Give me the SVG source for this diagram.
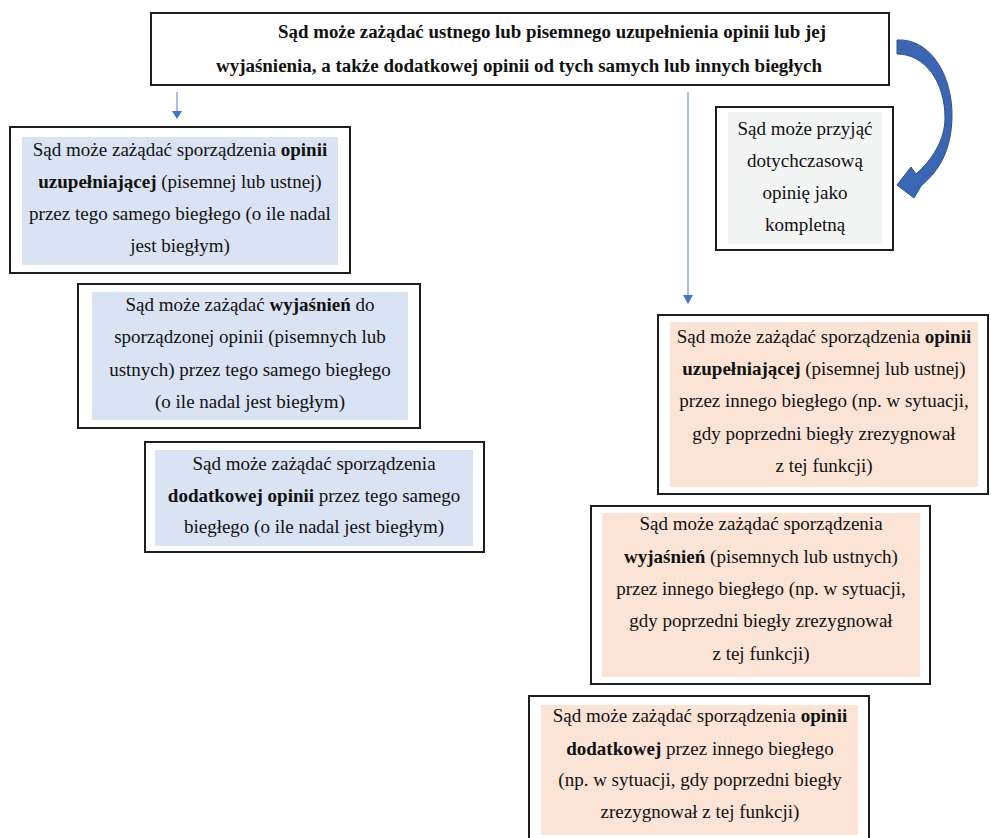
<svg xmlns="http://www.w3.org/2000/svg" width="991" height="838" viewBox="0 0 991 838">
<defs>
<style>
.box{fill:#ffffff;stroke:#1e1e1e;stroke-width:2}
.blue{fill:#dae3f3}
.peach{fill:#fbe4d6}
.gray{fill:#f3f4f4}
.b{font-weight:bold}
.conn{stroke:#8eaadb;stroke-width:1.5;fill:none}
.head{fill:#4472c4}
</style>
</defs>
<rect width="991" height="838" fill="#ffffff"/>

<g id="connectors">
<line class="conn" x1="177" y1="92" x2="177" y2="112"/>
<polygon class="head" points="172,111 182,111 177,119"/>
<line class="conn" x1="688" y1="92" x2="688" y2="296"/>
<polygon class="head" points="683,295 693,295 688,304"/>
<path d="M 897 40 C 930 38, 953 75, 952 118 C 951 150, 940 170, 921 186 L 914 198 L 897 185 L 911 167 L 916 174 C 932 160, 945 140, 945 118 C 945 82, 925 54, 897 54 Z" fill="#3b66b3" stroke="#2f528f" stroke-width="1"/>
</g>

<g id="top">
<rect class="box" x="151" y="13" width="738" height="72"/>
<text font-family="Liberation Serif" font-size="18" font-weight="bold" fill="#111" x="278" y="38" textLength="548" lengthAdjust="spacingAndGlyphs">Sąd może zażądać ustnego lub pisemnego uzupełnienia opinii lub jej</text>
<text font-family="Liberation Serif" font-size="18" font-weight="bold" fill="#111" x="216" y="72" textLength="606" lengthAdjust="spacingAndGlyphs">wyjaśnienia, a także dodatkowej opinii od tych samych lub innych biegłych</text>
</g>

<g id="left1">
<rect class="box" x="10" y="127" width="340" height="146"/>
<rect class="blue" x="22" y="137" width="316" height="128"/>
<text font-family="Liberation Serif" font-size="19" fill="#111" text-anchor="middle" x="180" y="156">Sąd może zażądać sporządzenia <tspan class="b">opinii</tspan></text>
<text font-family="Liberation Serif" font-size="19" fill="#111" text-anchor="middle" x="180" y="188"><tspan class="b">uzupełniającej</tspan> (pisemnej lub ustnej)</text>
<text font-family="Liberation Serif" font-size="19" fill="#111" text-anchor="middle" x="180" y="220">przez tego samego biegłego (o ile nadal</text>
<text font-family="Liberation Serif" font-size="19" fill="#111" text-anchor="middle" x="180" y="252">jest biegłym)</text>
</g>

<g id="left2">
<rect class="box" x="78" y="284" width="342" height="144"/>
<rect class="blue" x="92" y="292" width="316" height="128"/>
<text font-family="Liberation Serif" font-size="19" fill="#111" text-anchor="middle" x="250" y="311">Sąd może zażądać <tspan class="b">wyjaśnień</tspan> do</text>
<text font-family="Liberation Serif" font-size="19" fill="#111" text-anchor="middle" x="250" y="343">sporządzonej opinii (pisemnych lub</text>
<text font-family="Liberation Serif" font-size="19" fill="#111" text-anchor="middle" x="250" y="376">ustnych) przez tego samego biegłego</text>
<text font-family="Liberation Serif" font-size="19" fill="#111" text-anchor="middle" x="250" y="408">(o ile nadal jest biegłym)</text>
</g>

<g id="left3">
<rect class="box" x="145" y="442" width="339" height="110"/>
<rect class="blue" x="155" y="450" width="318" height="96"/>
<text font-family="Liberation Serif" font-size="19" fill="#111" text-anchor="middle" x="314" y="470">Sąd może zażądać sporządzenia</text>
<text font-family="Liberation Serif" font-size="19" fill="#111" text-anchor="middle" x="314" y="502"><tspan class="b">dodatkowej opinii</tspan> przez tego samego</text>
<text font-family="Liberation Serif" font-size="19" fill="#111" text-anchor="middle" x="314" y="533">biegłego (o ile nadal jest biegłym)</text>
</g>

<g id="accept">
<rect class="box" x="716" y="107" width="177" height="143"/>
<rect class="gray" x="728" y="112" width="154" height="132"/>
<text font-family="Liberation Serif" font-size="19" fill="#111" text-anchor="middle" x="805" y="135">Sąd może przyjąć</text>
<text font-family="Liberation Serif" font-size="19" fill="#111" text-anchor="middle" x="805" y="167">dotychczasową</text>
<text font-family="Liberation Serif" font-size="19" fill="#111" text-anchor="middle" x="805" y="199">opinię jako</text>
<text font-family="Liberation Serif" font-size="19" fill="#111" text-anchor="middle" x="805" y="231">kompletną</text>
</g>

<g id="right1">
<rect class="box" x="658" y="315" width="330" height="179"/>
<rect class="peach" x="670" y="322" width="308" height="165"/>
<text font-family="Liberation Serif" font-size="19" fill="#111" text-anchor="middle" x="824" y="343">Sąd może zażądać sporządzenia <tspan class="b">opinii</tspan></text>
<text font-family="Liberation Serif" font-size="19" fill="#111" text-anchor="middle" x="824" y="375"><tspan class="b">uzupełniającej</tspan> (pisemnej lub ustnej)</text>
<text font-family="Liberation Serif" font-size="19" fill="#111" text-anchor="middle" x="824" y="407">przez innego biegłego (np. w sytuacji,</text>
<text font-family="Liberation Serif" font-size="19" fill="#111" text-anchor="middle" x="824" y="440">gdy poprzedni biegły zrezygnował</text>
<text font-family="Liberation Serif" font-size="19" fill="#111" text-anchor="middle" x="824" y="472">z tej funkcji)</text>
</g>

<g id="right2">
<rect class="box" x="591" y="506" width="339" height="178"/>
<rect class="peach" x="602" y="513" width="318" height="164"/>
<text font-family="Liberation Serif" font-size="19" fill="#111" text-anchor="middle" x="761" y="530">Sąd może zażądać sporządzenia</text>
<text font-family="Liberation Serif" font-size="19" fill="#111" text-anchor="middle" x="761" y="563"><tspan class="b">wyjaśnień</tspan> (pisemnych lub ustnych)</text>
<text font-family="Liberation Serif" font-size="19" fill="#111" text-anchor="middle" x="761" y="595">przez innego biegłego (np. w sytuacji,</text>
<text font-family="Liberation Serif" font-size="19" fill="#111" text-anchor="middle" x="761" y="627">gdy poprzedni biegły zrezygnował</text>
<text font-family="Liberation Serif" font-size="19" fill="#111" text-anchor="middle" x="761" y="660">z tej funkcji)</text>
</g>

<g id="right3">
<rect class="box" x="529" y="696" width="340" height="150"/>
<rect class="peach" x="541" y="705" width="317" height="130"/>
<text font-family="Liberation Serif" font-size="19" fill="#111" text-anchor="middle" x="700" y="722">Sąd może zażądać sporządzenia <tspan class="b">opinii</tspan></text>
<text font-family="Liberation Serif" font-size="19" fill="#111" text-anchor="middle" x="700" y="755"><tspan class="b">dodatkowej</tspan> przez innego biegłego</text>
<text font-family="Liberation Serif" font-size="19" fill="#111" text-anchor="middle" x="700" y="786">(np. w sytuacji, gdy poprzedni biegły</text>
<text font-family="Liberation Serif" font-size="19" fill="#111" text-anchor="middle" x="700" y="818">zrezygnował z tej funkcji)</text>
</g>
</svg>
